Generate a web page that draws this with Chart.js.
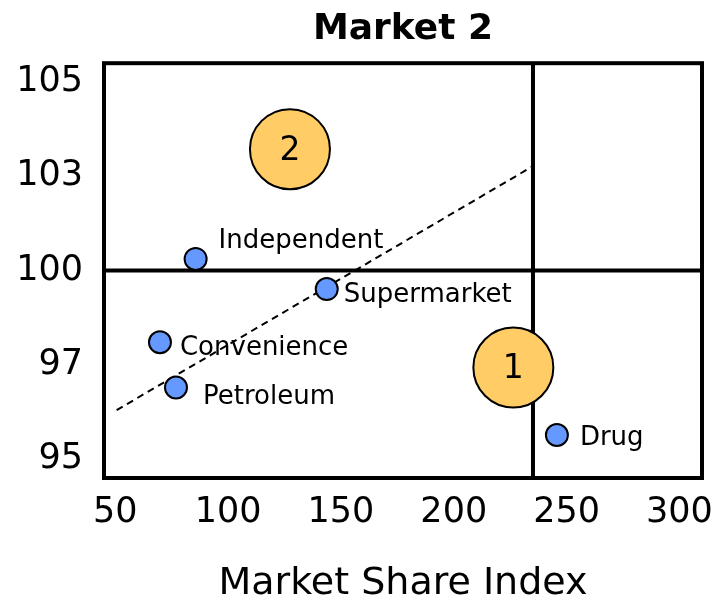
<!DOCTYPE html>
<html>
<head>
<meta charset="utf-8">
<script src="https://cdn.jsdelivr.net/npm/chart.js@4.4.0/dist/chart.umd.min.js"></script>
<style>
  html, body { margin: 0; padding: 0; background: #fff; overflow: hidden; }
  #wrap { width: 727px; height: 601px; }
</style>
</head>
<body>
<div id="wrap"><canvas id="chart"></canvas></div>
<script>
// === Channels ===
const channels = ["Independent", "Supermarket", "Convenience", "Petroleum", "Drug"];
const shareIndex = [85.6, 143.7, 69.8, 76.9, 245.7];
const priceIndex = [100.31, 99.51, 98.10, 96.90, 95.64];

// === Numbered bubbles ===
const bubbleNames = ["1", "2"];
const bubbleX = [226.4, 127.4];
const bubbleY = [97.43, 103.22];
const bubbleSize = [40, 40];

// === Trend line ===
const trendX = [50.6, 235.1];
const trendY = [96.3, 102.77];

// === Axes ===
const xTicks = [50, 100, 150, 200, 250, 300];
const yTicks = [95, 97.5, 100, 102.5, 105];
const yTickLabels = ["95", "97", "100", "103", "105"];
const xSplit = 235.1;
const ySplit = 100;

const FONT = "'DejaVu Sans', Verdana, sans-serif";

// frame + quadrant dividers
const quadrants = {
  id: "quadrants",
  beforeDatasetsDraw(chart) {
    const { ctx, chartArea: a, scales: { x, y } } = chart;
    const sx = x.getPixelForValue(xSplit);
    const sy = y.getPixelForValue(ySplit);
    ctx.save();
    ctx.strokeStyle = "#000";
    ctx.lineWidth = 4;
    ctx.beginPath();
    ctx.moveTo(sx, a.top); ctx.lineTo(sx, a.bottom);
    ctx.moveTo(a.left, sy); ctx.lineTo(a.right, sy);
    ctx.stroke();
    ctx.strokeRect(a.left, a.top, a.width, a.height);
    ctx.restore();
  }
};

// where each channel name sits next to its dot
const labelOffsets = {
  Independent: [23, -18],
  Supermarket: [17, 6],
  Convenience: [20, 6],
  Petroleum: [27, 10],
  Drug: [23, 3]
};

const pointLabels = {
  id: "pointLabels",
  afterDatasetsDraw(chart) {
    const { ctx } = chart;
    ctx.save();
    ctx.fillStyle = "#000";
    ctx.textBaseline = "middle";

    ctx.font = "26px " + FONT;
    ctx.textAlign = "left";
    chart.getDatasetMeta(0).data.forEach((pt, i) => {
      const [dx, dy] = labelOffsets[channels[i]];
      ctx.fillText(channels[i], pt.x + dx, pt.y + dy);
    });

    ctx.font = "33px " + FONT;
    ctx.textAlign = "center";
    chart.getDatasetMeta(1).data.forEach((pt, i) => {
      ctx.fillText(bubbleNames[i], pt.x, pt.y + 2);
    });
    ctx.restore();
  }
};

new Chart(document.getElementById("chart"), {
  type: "scatter",
  data: {
    datasets: [
      {
        label: "Channels",
        data: channels.map((c, i) => ({ x: shareIndex[i], y: priceIndex[i] })),
        pointRadius: 11,
        backgroundColor: "#6699ff",
        borderColor: "#000",
        borderWidth: 2,
        order: 0
      },
      {
        type: "bubble",
        label: "Markets",
        data: bubbleNames.map((b, i) => ({ x: bubbleX[i], y: bubbleY[i], r: bubbleSize[i] })),
        backgroundColor: "#ffcc66",
        borderColor: "#000",
        borderWidth: 2,
        order: 1
      },
      {
        type: "line",
        label: "Trend",
        data: trendX.map((v, i) => ({ x: v, y: trendY[i] })),
        borderColor: "#000",
        borderWidth: 2,
        borderDash: [7, 5],
        pointRadius: 0,
        fill: false,
        order: 2
      }
    ]
  },
  options: {
    responsive: true,
    maintainAspectRatio: false,
    animation: false,
    layout: { autoPadding: false, padding: { left: 0, right: 25, top: 0, bottom: 0 } },
    plugins: {
      legend: { display: false },
      tooltip: { enabled: false },
      title: {
        display: true,
        text: "Market 2",
        fullSize: false,
        color: "#000",
        font: { family: FONT, size: 36, weight: "bold" },
        padding: { top: 8, bottom: 12 }
      }
    },
    scales: {
      x: {
        type: "linear",
        min: 45,
        max: 310,
        afterBuildTicks: (s) => { s.ticks = xTicks.map((v) => ({ value: v })); },
        afterFit: (s) => { s.height = 123; s.paddingLeft = 0; s.paddingRight = 0; },
        grid: { display: false, drawTicks: false },
        border: { display: false },
        ticks: {
          autoSkip: false,
          maxRotation: 0,
          color: "#000",
          padding: 14,
          font: { family: FONT, size: 35 }
        },
        title: {
          display: true,
          text: "Market Share Index",
          color: "#000",
          padding: { top: 0, bottom: -2 },
          font: { family: FONT, size: 38, lineHeight: 1 }
        }
      },
      y: {
        type: "linear",
        min: 94.5,
        max: 105.5,
        afterBuildTicks: (s) => { s.ticks = yTicks.map((v) => ({ value: v })); },
        afterFit: (s) => { s.width = 104; s.paddingTop = 0; s.paddingBottom = 0; },
        grid: { display: false, drawTicks: false },
        border: { display: false },
        ticks: {
          autoSkip: false,
          color: "#000",
          padding: 21,
          font: { family: FONT, size: 35 },
          callback: (v) => yTickLabels[yTicks.indexOf(v)]
        }
      }
    }
  },
  plugins: [quadrants, pointLabels]
});
</script>
</body>
</html>
